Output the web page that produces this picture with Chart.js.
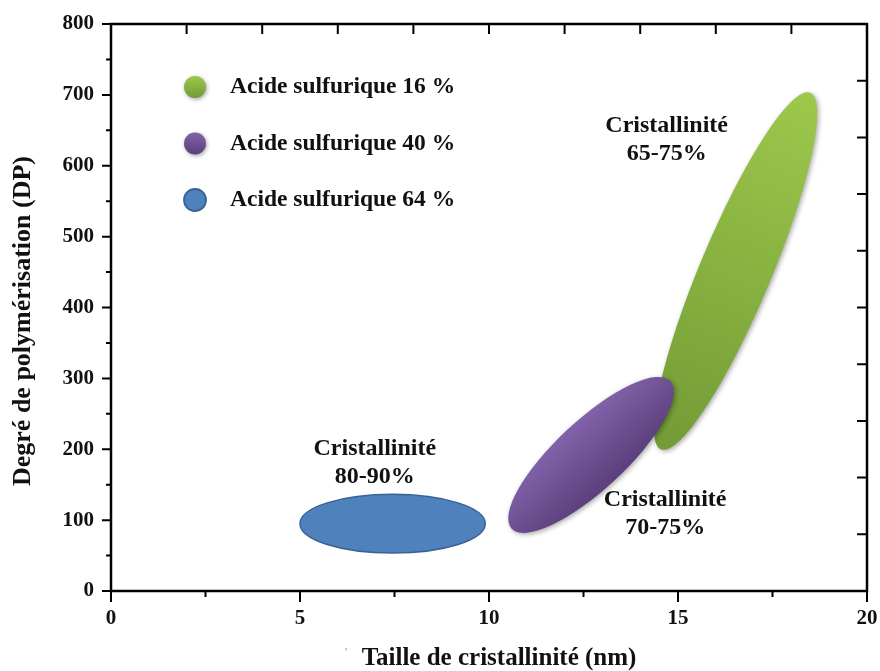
<!DOCTYPE html>
<html>
<head>
<meta charset="utf-8">
<script src="https://cdn.jsdelivr.net/npm/chart.js@4"></script>
<style>
    body { margin: 0; background: #fff; }
    #wrap { width: 880px; height: 671px; position: relative; }
</style>
</head>
<body>
<div id="wrap"><canvas id="crystalChart"></canvas></div>
<script>
// Series: acid concentration groups
const seriesLabels = ['Acide sulfurique 16 %', 'Acide sulfurique 40 %', 'Acide sulfurique 64 %'];
// each zone = ellipse whose long axis runs from start to end (taille nm, DP)
const startSize = [14.55, 10.6, 5.0];
const startDP = [200, 88, 95];
const endSize = [18.5, 14.8, 9.9];
const endDP = [703, 296, 95];

// crystallinity notes
const noteLines = [['Cristallinité', '65-75%'], ['Cristallinité', '70-75%'], ['Cristallinité', '80-90%']];
const noteSize = [14.7, 14.66, 6.98];
const noteDP = [657, 129, 200];

// ticks
const xMajor = [0, 5, 10, 15, 20];
const xMinor = [2.5, 7.5, 12.5, 17.5];
const yMajor = [0, 100, 200, 300, 400, 500, 600, 700, 800];
const yMinor = [50, 150, 250, 350, 450, 550, 650, 750];
const topTicks = [2, 4, 6, 8, 10, 12, 14, 16, 18];
const rightTicks = [80, 160, 240, 320, 400, 480, 560, 640, 720];

// styles
const flatness = [0.185, 0.32, 0.317];
const fillLight = ['#9dc84b', '#8263aa', '#4f81bd'];
const fillDark = ['#729b36', '#5b3e7b', '#4f81bd'];
const strokeCol = [null, null, '#3a6392'];
const serif = "'Liberation Serif', 'Times New Roman', serif";

const zonesPlugin = {
    id: 'zones',
    beforeDatasetsDraw(chart) {
        const ctx = chart.ctx;
        const xs = chart.scales.x, ys = chart.scales.y;
        chart.data.datasets.forEach((ds, i) => {
            const p1 = ds.data[0], p2 = ds.data[1];
            const x1 = xs.getPixelForValue(p1.x), y1 = ys.getPixelForValue(p1.y);
            const x2 = xs.getPixelForValue(p2.x), y2 = ys.getPixelForValue(p2.y);
            const cx = (x1 + x2) / 2, cy = (y1 + y2) / 2;
            const a = Math.hypot(x2 - x1, y2 - y1) / 2;
            const b = a * flatness[i];
            const ang = Math.atan2(y2 - y1, x2 - x1);
            ctx.save();
            ctx.translate(cx, cy);
            ctx.rotate(ang);
            let g;
            if (i === 0) {
                g = ctx.createLinearGradient(-a, 0, a, 0);
                g.addColorStop(0, fillDark[i]);
                g.addColorStop(1, fillLight[i]);
            } else if (i === 1) {
                g = ctx.createLinearGradient(0, -b, 0, b);
                g.addColorStop(0, fillLight[i]);
                g.addColorStop(1, fillDark[i]);
            } else {
                g = fillLight[i];
            }
            ctx.beginPath();
            ctx.ellipse(0, 0, a, b, 0, 0, Math.PI * 2);
            if (!strokeCol[i]) {
                ctx.shadowColor = 'rgba(0,0,0,0.35)';
                ctx.shadowBlur = 5;
                ctx.shadowOffsetX = 1.5;
                ctx.shadowOffsetY = 1.5;
            }
            ctx.fillStyle = g;
            ctx.fill();
            ctx.shadowColor = 'transparent';
            if (strokeCol[i]) {
                ctx.lineWidth = 1.5;
                ctx.strokeStyle = strokeCol[i];
                ctx.stroke();
            }
            ctx.restore();
        });
    },
    afterDatasetsDraw(chart) {
        const ctx = chart.ctx;
        const xs = chart.scales.x, ys = chart.scales.y;
        const area = chart.chartArea;
        ctx.save();
        // notes
        ctx.fillStyle = '#111';
        ctx.font = 'bold 24px ' + serif;
        ctx.textAlign = 'center';
        ctx.textBaseline = 'middle';
        noteLines.forEach((lines, i) => {
            const px = xs.getPixelForValue(noteSize[i]);
            const py = ys.getPixelForValue(noteDP[i]);
            lines.forEach((t, k) => ctx.fillText(t, px, py + k * 28));
        });

        // legend
        seriesLabels.forEach((lab, i) => {
            const mx = area.left + 84, my = area.top + 63 + i * 56.5;
            ctx.save();
            const g = ctx.createLinearGradient(0, my - 11, 0, my + 11);
            g.addColorStop(0, fillLight[i]);
            g.addColorStop(1, fillDark[i]);
            ctx.beginPath();
            ctx.arc(mx, my, 11, 0, Math.PI * 2);
            if (!strokeCol[i]) {
                ctx.shadowColor = 'rgba(0,0,0,0.35)';
                ctx.shadowBlur = 4;
                ctx.shadowOffsetX = 1;
                ctx.shadowOffsetY = 1.5;
            }
            ctx.fillStyle = strokeCol[i] ? fillLight[i] : g;
            ctx.fill();
            ctx.shadowColor = 'transparent';
            if (strokeCol[i]) {
                ctx.lineWidth = 1.8;
                ctx.strokeStyle = strokeCol[i];
                ctx.stroke();
            }
            ctx.restore();
            ctx.fillStyle = '#111';
            ctx.font = 'bold 23.5px ' + serif;
            ctx.textAlign = 'left';
            ctx.textBaseline = 'middle';
            ctx.fillText(lab, area.left + 119, my);
        });

        // frame
        ctx.strokeStyle = '#000';
        ctx.lineWidth = 2.5;
        ctx.strokeRect(area.left, area.top, area.right - area.left, area.bottom - area.top);

        // ticks
        ctx.lineWidth = 2;
        ctx.beginPath();
        xMajor.forEach(v => { const p = xs.getPixelForValue(v); ctx.moveTo(p, area.bottom); ctx.lineTo(p, area.bottom + 11); });
        xMinor.forEach(v => { const p = xs.getPixelForValue(v); ctx.moveTo(p, area.bottom); ctx.lineTo(p, area.bottom + 6); });
        yMajor.forEach(v => { const p = ys.getPixelForValue(v); ctx.moveTo(area.left, p); ctx.lineTo(area.left - 9, p); });
        yMinor.forEach(v => { const p = ys.getPixelForValue(v); ctx.moveTo(area.left, p); ctx.lineTo(area.left - 5, p); });
        topTicks.forEach(v => { const p = xs.getPixelForValue(v); ctx.moveTo(p, area.top); ctx.lineTo(p, area.top + 10); });
        rightTicks.forEach(v => { const p = ys.getPixelForValue(v); ctx.moveTo(area.right, p); ctx.lineTo(area.right - 10, p); });
        ctx.stroke();

        // axis titles
        ctx.fillStyle = '#111';
        ctx.textAlign = 'center';
        ctx.textBaseline = 'middle';
        ctx.font = 'bold 25px ' + serif;
        ctx.fillText('Taille de cristallinité (nm)', 499, 659);
        ctx.fillStyle = '#999';
        ctx.font = '12px ' + serif;
        ctx.fillText("'", 346, 653);
        ctx.fillStyle = '#111';
        ctx.translate(23, 321);
        ctx.rotate(-Math.PI / 2);
        ctx.font = 'bold 26px ' + serif;
        ctx.fillText('Degré de polymérisation (DP)', 0, 0);
        ctx.restore();
    }
};

document.addEventListener('DOMContentLoaded', () => {
    const ctx = document.getElementById('crystalChart').getContext('2d');
    const datasets = seriesLabels.map((lab, i) => ({
        label: lab,
        data: [{ x: startSize[i], y: startDP[i] }, { x: endSize[i], y: endDP[i] }],
        pointRadius: 0,
        showLine: false
    }));

    new Chart(ctx, {
        type: 'scatter',
        data: { datasets: datasets },
        options: {
            responsive: true,
            maintainAspectRatio: false,
            animation: false,
            layout: { padding: { top: 24, right: 13, left: 0, bottom: 0 } },
            plugins: {
                legend: { display: false },
                tooltip: { enabled: false }
            },
            scales: {
                x: {
                    type: 'linear',
                    min: 0,
                    max: 20,
                    afterFit: s => { s.height = 80; s.paddingLeft = 0; s.paddingRight = 0; },
                    grid: { display: false, drawTicks: false },
                    border: { display: false },
                    ticks: {
                        stepSize: 5,
                        padding: 15,
                        color: '#111',
                        font: { family: serif, size: 21, weight: 'bold' }
                    }
                },
                y: {
                    type: 'linear',
                    min: 0,
                    max: 800,
                    afterFit: s => { s.width = 111; s.paddingTop = 0; s.paddingBottom = 0; },
                    grid: { display: false, drawTicks: false },
                    border: { display: false },
                    ticks: {
                        stepSize: 100,
                        padding: 17,
                        color: '#111',
                        font: { family: serif, size: 21, weight: 'bold' }
                    }
                }
            }
        },
        plugins: [zonesPlugin]
    });
});
</script>
</body>
</html>
